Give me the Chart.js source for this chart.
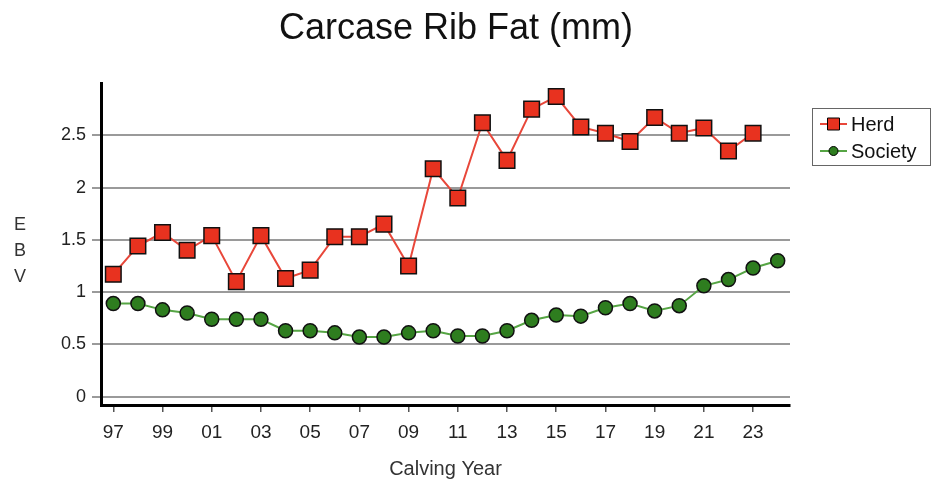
<!DOCTYPE html>
<html>
<head>
<meta charset="utf-8">
<script src="https://cdn.jsdelivr.net/npm/chart.js@4"></script>
<style>
  body { margin: 0; background: #fff; }
  #wrap { width: 942px; height: 479px; position: relative; }
</style>
</head>
<body>
<div id="wrap"><canvas id="rib-fat-chart"></canvas></div>
<script>
const years = [1997, 1998, 1999, 2000, 2001, 2002, 2003, 2004, 2005, 2006, 2007, 2008, 2009, 2010,
    2011, 2012, 2013, 2014, 2015, 2016, 2017, 2018, 2019, 2020, 2021, 2022, 2023, 2024];
const herd = [1.17, 1.44, 1.57, 1.40, 1.54, 1.10, 1.54, 1.13, 1.21, 1.53, 1.53, 1.65, 1.25, 2.18,
    1.90, 2.62, 2.26, 2.75, 2.87, 2.58, 2.52, 2.44, 2.67, 2.52, 2.57, 2.35, 2.52, null];
const society = [0.89, 0.89, 0.83, 0.80, 0.74, 0.74, 0.74, 0.63, 0.63, 0.61, 0.57, 0.57, 0.61, 0.63,
    0.58, 0.58, 0.63, 0.73, 0.78, 0.77, 0.85, 0.89, 0.82, 0.87, 1.06, 1.12, 1.23, 1.30];
const xTicks = [1997, 1999, 2001, 2003, 2005, 2007, 2009, 2011, 2013, 2015, 2017, 2019, 2021, 2023];
const yTicks = [0, 0.5, 1, 1.5, 2, 2.5];

const toPoints = (vals) => years
    .map((yr, i) => ({ x: yr, y: vals[i] }))
    .filter(p => p.y !== null);

const FONT = "'Liberation Sans', Arial, sans-serif";
Chart.defaults.font.family = FONT;

// title, stacked axis label and boxed legend drawn by hand
const decorations = {
    id: 'decorations',
    afterDraw(chart) {
        const ctx = chart.ctx;
        ctx.save();
        ctx.textBaseline = 'middle';
        ctx.fillStyle = '#111';
        ctx.textAlign = 'center';
        ctx.font = `36px ${FONT}`;
        ctx.fillText('Carcase Rib Fat (mm)', 456, 29);

        ctx.fillStyle = '#333';
        ctx.font = `18px ${FONT}`;
        ['E', 'B', 'V'].forEach((ch, i) => ctx.fillText(ch, 20, 225 + i * 26));

        ctx.strokeStyle = '#666';
        ctx.lineWidth = 1;
        ctx.strokeRect(812.5, 108.5, 118, 57);
        ctx.textAlign = 'left';
        ctx.font = `20px ${FONT}`;
        chart.data.datasets.forEach((ds, i) => {
            const y = 124 + i * 27;
            ctx.strokeStyle = ds.borderColor;
            ctx.lineWidth = 2;
            ctx.beginPath();
            ctx.moveTo(820, y);
            ctx.lineTo(847, y);
            ctx.stroke();
            ctx.fillStyle = ds.pointBackgroundColor;
            ctx.strokeStyle = '#000';
            ctx.lineWidth = 1;
            ctx.beginPath();
            if (ds.pointStyle === 'rect') ctx.rect(827.5, y - 6, 12, 12);
            else ctx.arc(833.5, y, 4.5, 0, Math.PI * 2);
            ctx.fill();
            ctx.stroke();
            ctx.fillStyle = '#111';
            ctx.fillText(ds.label, 851, y + 1);
        });
        ctx.restore();
    },
};

new Chart(document.getElementById('rib-fat-chart'), {
    type: 'line',
    data: {
        datasets: [
            {
                label: 'Herd',
                data: toPoints(herd),
                borderColor: '#e8473a',
                borderWidth: 2,
                pointStyle: 'rect',
                pointRadius: 11,
                pointBackgroundColor: '#e8321f',
                pointBorderColor: '#111',
                pointBorderWidth: 1.5,
                tension: 0,
            },
            {
                label: 'Society',
                data: toPoints(society),
                borderColor: '#56a544',
                borderWidth: 2,
                pointStyle: 'circle',
                pointRadius: 7,
                pointBackgroundColor: '#2e7d1f',
                pointBorderColor: '#111',
                pointBorderWidth: 1.5,
                tension: 0,
            },
        ],
    },
    options: {
        responsive: true,
        maintainAspectRatio: false,
        animation: false,
        layout: { padding: { top: 83, right: 152, left: 0, bottom: 0 } },
        plugins: {
            legend: { display: false },
            title: { display: false },
            tooltip: { enabled: false },
        },
        scales: {
            x: {
                type: 'linear',
                min: 1996.5,
                max: 2024.5,
                afterBuildTicks: (s) => { s.ticks = xTicks.map(v => ({ value: v })); },
                afterFit: (s) => { s.height = 74; },
                ticks: {
                    callback: (v) => String(v).slice(2),
                    font: { size: 19 },
                    color: '#222',
                    padding: 9,
                    maxRotation: 0,
                },
                grid: { drawOnChartArea: false, drawTicks: true, tickLength: 7, color: '#555', lineWidth: 1.5 },
                border: { color: '#000', width: 3 },
                title: {
                    display: true,
                    text: 'Calving Year',
                    font: { size: 20, lineHeight: 1 },
                    color: '#333',
                    padding: { top: 2, bottom: 0 },
                },
            },
            y: {
                min: -0.08,
                max: 3.0,
                afterBuildTicks: (s) => { s.ticks = yTicks.map(v => ({ value: v })); },
                afterFit: (s) => { s.width = 101; },
                ticks: {
                    callback: (v) => String(v),
                    font: { size: 18 },
                    color: '#222',
                    padding: 6,
                },
                grid: { color: '#9a9a9a', lineWidth: 2, tickLength: 9, drawTicks: true },
                border: { color: '#000', width: 3 },
            },
        },
    },
    plugins: [decorations],
});
</script>
</body>
</html>
